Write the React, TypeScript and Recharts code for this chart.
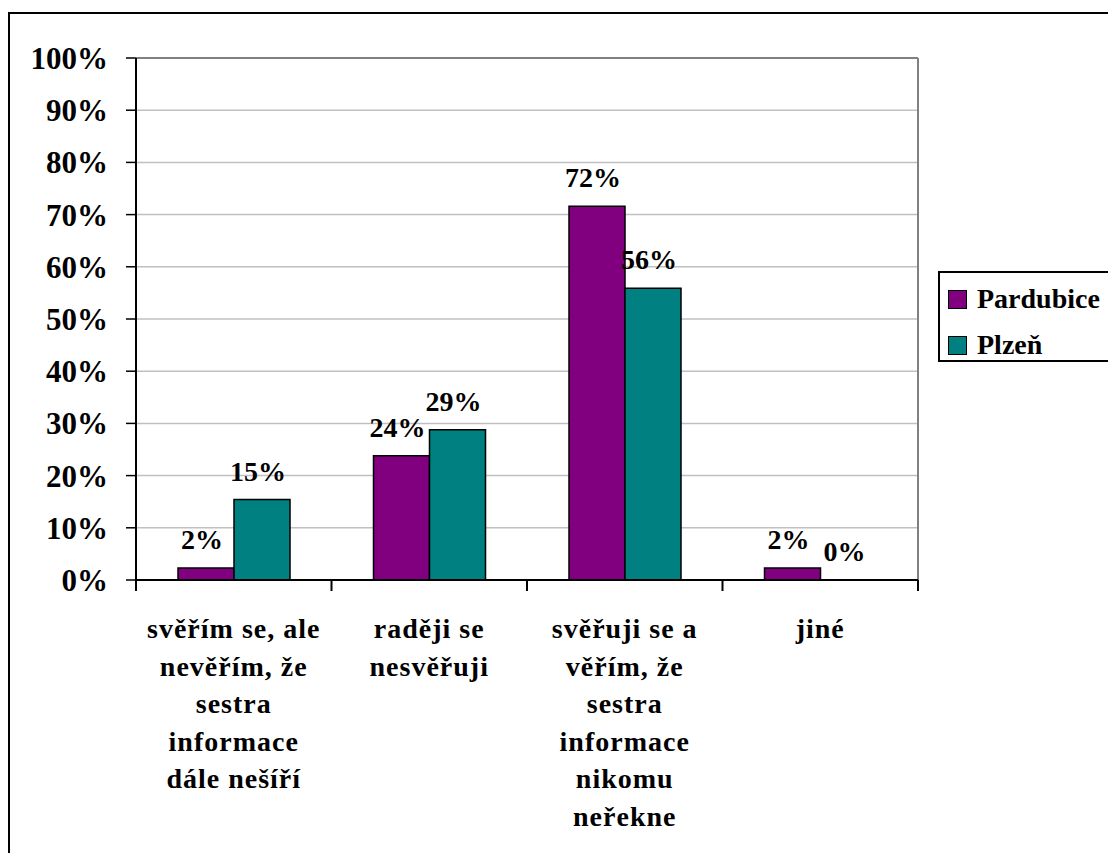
import { BarChart, Bar, XAxis, YAxis, CartesianGrid, LabelList, Cell } from 'recharts';

// category labels, already split into the lines they are printed on
const categoryLines: string[][] = [
  ["svěřím se, ale", "nevěřím, že", "sestra", "informace", "dále nešíří"],
  ["raději se", "nesvěřuji"],
  ["svěřuji se a", "věřím, že", "sestra", "informace", "nikomu", "neřekne"],
  ["jiné"],
];
const categories = categoryLines.map(lines => lines.join(" "));

const pardubice = [2.3, 23.8, 71.6, 2.3];
const plzen = [15.4, 28.8, 55.9, 0];

const seriesNames = ["Pardubice", "Plzeň"];
const seriesKeys = ["pardubice", "plzen"];
const seriesValues = [pardubice, plzen];
const seriesColors = ["#800080", "#008080"];

const yTicks = [0, 10, 20, 30, 40, 50, 60, 70, 80, 90, 100];

const data = categories.map((name, i) => ({ name, pardubice: pardubice[i], plzen: plzen[i] }));

const FONT = '"Liberation Serif", "Times New Roman", serif';
const W = 1108;
const H = 853;
const PLOT_LEFT = 136;
const PLOT_RIGHT = 918;
const PLOT_TOP = 58;
const PLOT_BOTTOM = 580;
const BAND = (PLOT_RIGHT - PLOT_LEFT) / categories.length;

const CategoryTick = (props: any) => {
  const { x, payload } = props;
  const idx = categories.indexOf(payload.value);
  const lines = categoryLines[idx] || [];
  const last = idx === categories.length - 1;
  return (
    <g>
      <line x1={x - BAND / 2} x2={x - BAND / 2} y1={PLOT_BOTTOM} y2={PLOT_BOTTOM + 11} stroke="#000" strokeWidth={2} />
      {last && (
        <line x1={x + BAND / 2} x2={x + BAND / 2} y1={PLOT_BOTTOM} y2={PLOT_BOTTOM + 11} stroke="#000" strokeWidth={2} />
      )}
      <text textAnchor="middle" fontFamily={FONT} fontWeight="bold" fontSize={28} letterSpacing={1} fill="#000">
        {lines.map((line, i) => (
          <tspan key={i} x={x} y={PLOT_BOTTOM + 58 + i * 37.5}>{line}</tspan>
        ))}
      </text>
    </g>
  );
};

const ValueLabel = (props: any) => {
  const { x, y, width, value } = props;
  return (
    <text
      x={Number(x) + Number(width) / 2 - 4}
      y={Number(y) - 19}
      textAnchor="middle"
      fontFamily={FONT}
      fontWeight="bold"
      fontSize={28}
      fill="#000"
    >
      {Math.round(Number(value))}%
    </text>
  );
};

export default function App() {
  return (
    <div style={{ position: 'absolute', left: 0, top: 0, width: W, height: H, overflow: 'hidden', background: '#fff' }}>
      {/* outer frame, only its left and top edges fall inside the view */}
      <div style={{ position: 'absolute', left: 8, top: 12, width: 1200, height: 900, borderLeft: '2px solid #000', borderTop: '2px solid #000' }} />

      <div style={{ position: 'absolute', left: 0, top: 0 }}>
        <BarChart
          width={W}
          height={H}
          data={data}
          margin={{ top: PLOT_TOP, right: W - PLOT_RIGHT, bottom: 0, left: 0 }}
          barGap={0}
        >
          <CartesianGrid vertical={false} stroke="#c0c0c0" strokeWidth={1.5} />
          <CartesianGrid horizontalPoints={[PLOT_TOP]} verticalPoints={[PLOT_RIGHT]} stroke="#808080" strokeWidth={2} />
          <XAxis
            dataKey="name"
            height={H - PLOT_BOTTOM}
            interval={0}
            tickLine={false}
            axisLine={{ stroke: '#000', strokeWidth: 2 }}
            tick={<CategoryTick />}
          />
          <YAxis
            width={PLOT_LEFT}
            domain={[0, 100]}
            ticks={yTicks}
            interval={0}
            tickSize={10}
            tickMargin={18}
            tickFormatter={(v: number) => `${v}%`}
            axisLine={{ stroke: '#000', strokeWidth: 2 }}
            tickLine={{ stroke: '#000', strokeWidth: 1.5 }}
            tick={{ fill: '#000', fontSize: 31, fontWeight: 'bold', fontFamily: FONT }}
          />
          {seriesKeys.map((key, i) => (
            <Bar
              key={key}
              dataKey={key}
              name={seriesNames[i]}
              fill={seriesColors[i]}
              stroke="#000"
              strokeWidth={1.5}
              barSize={56}
              minPointSize={0.5}
              isAnimationActive={false}
            >
              {/* a zero bar keeps its label but shows no rectangle */}
              {seriesValues[i].map((v, j) => (
                <Cell key={j} fill={v > 0 ? seriesColors[i] : 'none'} stroke={v > 0 ? '#000' : 'none'} />
              ))}
              <LabelList dataKey={key} content={<ValueLabel />} />
            </Bar>
          ))}
        </BarChart>
      </div>

      {/* legend box */}
      <div
        style={{
          position: 'absolute',
          left: 938,
          top: 271,
          width: 220,
          height: 87,
          border: '2px solid #000',
          background: '#fff',
          fontFamily: FONT,
          fontWeight: 'bold',
          fontSize: 28,
        }}
      >
        {seriesNames.map((name, i) => (
          <div key={name} style={{ position: 'absolute', left: 8, top: 10 + i * 46, height: 32, display: 'flex', alignItems: 'center' }}>
            <span style={{ display: 'inline-block', width: 17, height: 17, background: seriesColors[i], border: '1px solid #000', marginRight: 10 }} />
            <span style={{ lineHeight: '32px' }}>{name}</span>
          </div>
        ))}
      </div>
    </div>
  );
}
